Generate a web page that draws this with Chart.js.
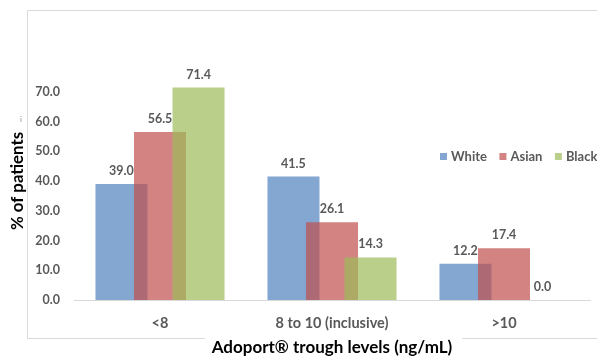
<!DOCTYPE html>
<html>
<head>
<meta charset="utf-8">
<script src="https://cdn.jsdelivr.net/npm/chart.js@4/dist/chart.umd.min.js"></script>
<style>
  html, body { margin: 0; padding: 0; background: #ffffff; }
  canvas { display: block; }
</style>
</head>
<body>
<canvas id="chart" width="597" height="358"></canvas>
<script>
// Trough level bands and share of patients per group
const categories = ['<8', '8 to 10 (inclusive)', '>10'];
const seriesNames = ['White', 'Asian', 'Black'];
const whiteValues = [39.0, 41.5, 12.2];
const asianValues = [56.5, 26.1, 17.4];
const blackValues = [71.4, 14.3, 0.0];
const yTickValues = [0, 10, 20, 30, 40, 50, 60, 70];
const xAxisTitle = 'Adoport\u00AE trough levels (ng/mL)';
const yAxisTitle = '% of patients';

const FONT = 'Lato, "Open Sans", "DejaVu Sans", sans-serif';
const GREY_TEXT = '#595959';
const X_TITLE_SIZE = 17;

// Office palette at 70% opacity so overlapping bars blend
const fills = ['rgba(79,129,189,0.7)', 'rgba(192,80,77,0.7)', 'rgba(155,187,89,0.7)'];
const seriesValues = [whiteValues, asianValues, blackValues];

// White page, light frame around the chart with a gap for the axis title
const framePlugin = {
  id: 'frame',
  beforeDraw(chart) {
    const ctx = chart.ctx;
    const { width, height } = chart;
    ctx.save();
    ctx.fillStyle = '#ffffff';
    ctx.fillRect(0, 0, width, height);
    ctx.strokeStyle = '#d9d9d9';
    ctx.lineWidth = 1;
    const xs = chart.scales.x;
    ctx.font = 'bold ' + X_TITLE_SIZE + 'px ' + FONT;
    const tw = ctx.measureText(xAxisTitle).width;
    const cx = (xs.left + xs.right) / 2;
    const gapL = cx - tw / 2 - 7;
    const gapR = cx + tw / 2 + 10;
    ctx.beginPath();
    ctx.moveTo(27.5, 338.5); ctx.lineTo(27.5, 10.5); ctx.lineTo(width, 10.5);
    ctx.moveTo(27.5, 338.5); ctx.lineTo(gapL, 338.5);
    ctx.moveTo(gapR, 338.5); ctx.lineTo(width, 338.5);
    ctx.stroke();
    ctx.restore();
  }
};

// Draw the series in their natural order so later groups sit on top
const seriesOrderPlugin = {
  id: 'seriesOrder',
  beforeDatasetsDraw(chart) {
    chart.data.datasets.forEach((ds, i) => {
      const meta = chart.getDatasetMeta(i);
      if (meta.visible) meta.controller.draw();
    });
    return false;
  }
};

// Value labels above each bar, legend row and the small marker beside the y title
const labelsPlugin = {
  id: 'labels',
  afterDraw(chart) {
    const ctx = chart.ctx;
    ctx.save();
    ctx.font = 'bold 12.5px ' + FONT;
    ctx.fillStyle = GREY_TEXT;
    ctx.textAlign = 'center';
    ctx.textBaseline = 'middle';
    chart.data.datasets.forEach((ds, i) => {
      const meta = chart.getDatasetMeta(i);
      meta.data.forEach((bar, j) => {
        ctx.fillText(ds.data[j].toFixed(1), bar.x, bar.y - 13);
      });
    });

    // legend
    ctx.font = 'bold 13px ' + FONT;
    let x = 440;
    const y = 157;
    ctx.textAlign = 'left';
    chart.data.datasets.forEach((ds, i) => {
      ctx.fillStyle = fills[i];
      ctx.fillRect(x, y - 4, 7, 7);
      ctx.fillStyle = GREY_TEXT;
      ctx.fillText(ds.label, x + 11, y);
      x += 11 + ctx.measureText(ds.label).width + 12.5;
    });

    ctx.font = '8px ' + FONT;
    ctx.fillStyle = '#8c8c8c';
    ctx.textAlign = 'center';
    ctx.fillText('i', 21, 119);
    ctx.restore();
  }
};

new Chart(document.getElementById('chart'), {
  type: 'bar',
  data: {
    labels: categories,
    datasets: seriesNames.map((name, i) => ({
      label: name,
      data: seriesValues[i],
      backgroundColor: fills[i],
      borderWidth: 0,
      barPercentage: 1.35,
      categoryPercentage: 0.672
    }))
  },
  plugins: [framePlugin, seriesOrderPlugin, labelsPlugin],
  options: {
    responsive: false,
    animation: false,
    devicePixelRatio: 1,
    layout: { padding: { left: 0, right: 7, top: 62, bottom: 0 } },
    plugins: {
      legend: { display: false },
      tooltip: { enabled: false }
    },
    scales: {
      x: {
        grid: { display: false, drawTicks: false },
        border: { display: true, color: '#d9d9d9', width: 1 },
        ticks: {
          color: GREY_TEXT,
          font: { family: FONT, size: 14.5, weight: 'bold' },
          padding: 15,
          maxRotation: 0
        },
        title: {
          display: true,
          text: xAxisTitle,
          color: '#000000',
          font: { family: FONT, size: X_TITLE_SIZE, weight: 'bold' },
          padding: { top: 0, bottom: 0 }
        },
        afterFit(scale) { scale.height = 58; }
      },
      y: {
        min: 0,
        max: 80,
        grid: { display: false, drawTicks: false },
        border: { display: false },
        afterBuildTicks(scale) {
          scale.ticks = yTickValues.map(v => ({ value: v }));
        },
        ticks: {
          color: GREY_TEXT,
          font: { family: FONT, size: 12.5, weight: 'bold' },
          padding: 14,
          callback: v => Number(v).toFixed(1)
        },
        title: {
          display: true,
          text: yAxisTitle,
          color: '#000000',
          font: { family: FONT, size: 16.8, weight: 'bold' },
          padding: { top: 7.6, bottom: 0 }
        },
        afterFit(scale) { scale.width = 74; }
      }
    }
  }
});
</script>
</body>
</html>
